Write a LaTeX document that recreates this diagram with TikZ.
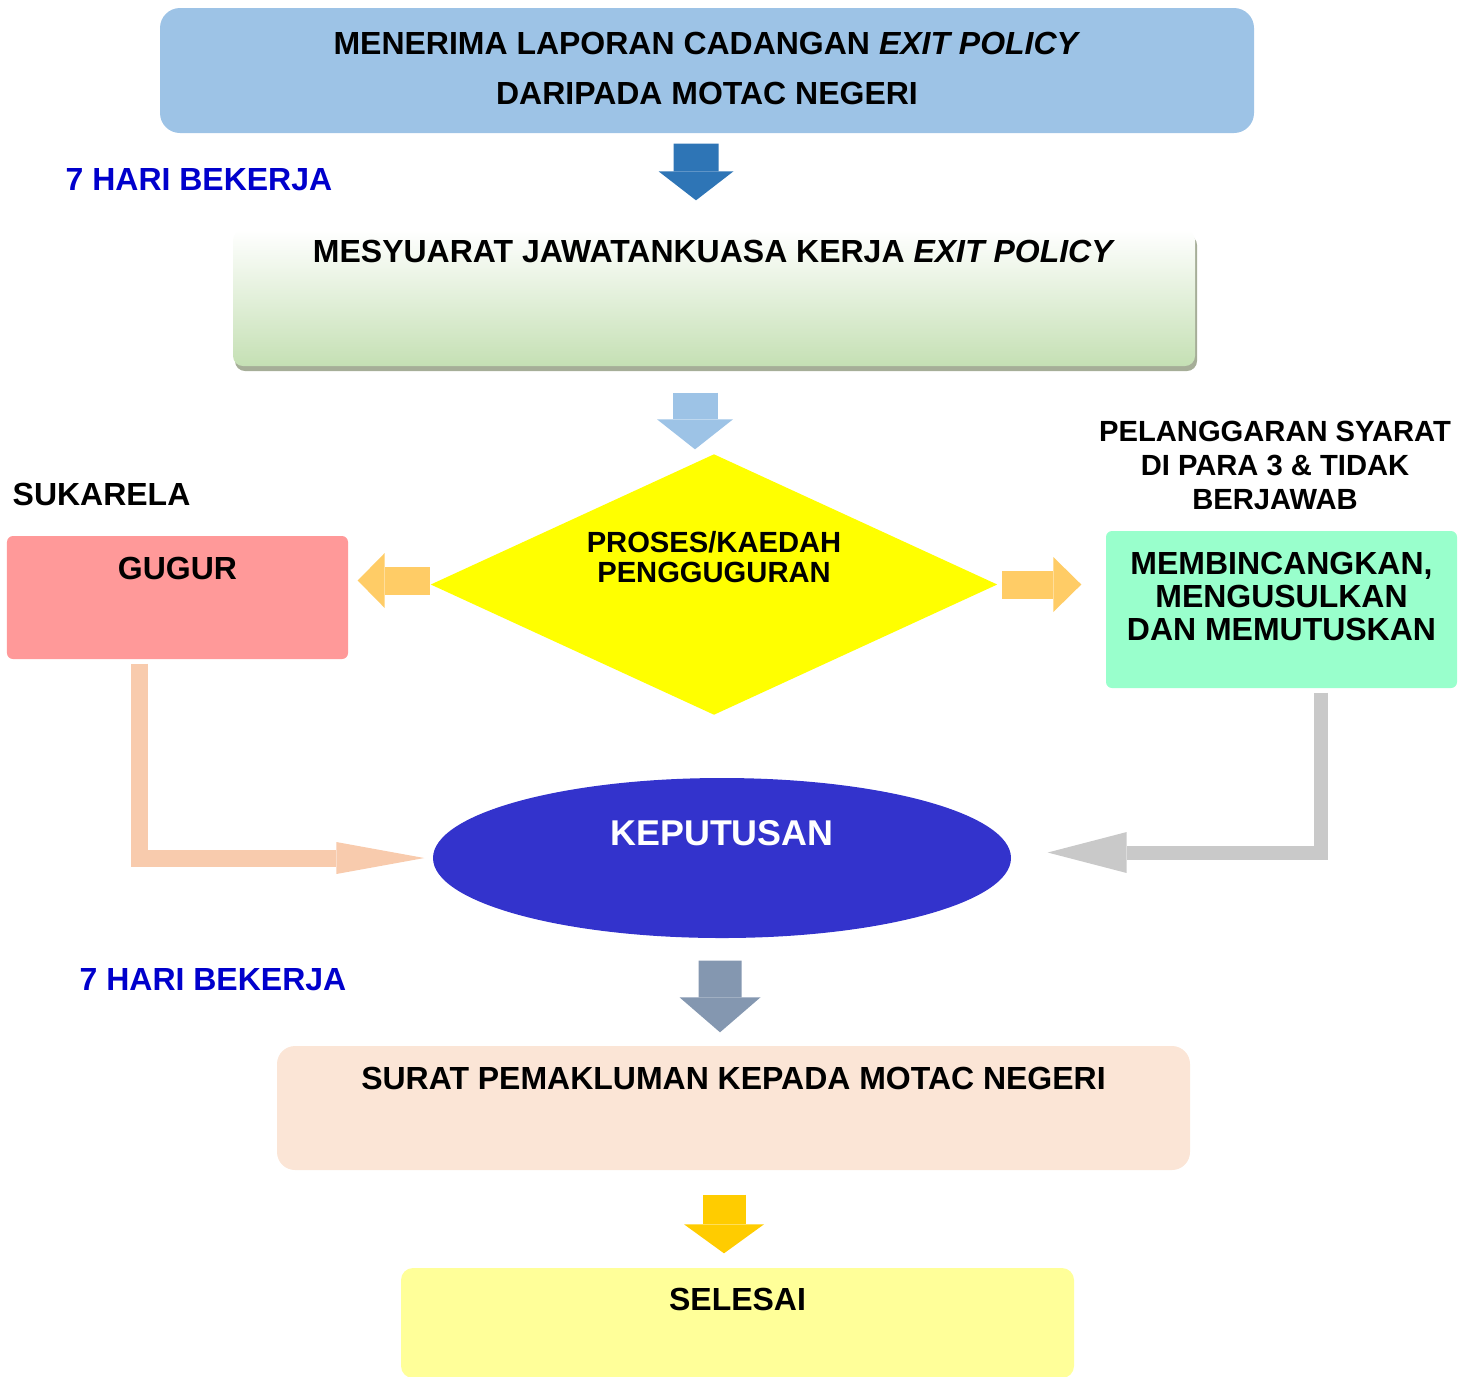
\documentclass[tikz,border=0pt]{standalone}
\usepackage{fontspec}
\setmainfont{Liberation Sans}
\usetikzlibrary{positioning,shapes.geometric,arrows.meta,shadows,calc}
\definecolor{lapblue}{HTML}{9DC3E6}
\definecolor{arrblue}{HTML}{2E75B6}
\definecolor{meetgreen}{HTML}{C5E0B4}
\definecolor{meetshadow}{HTML}{A6AE98}
\definecolor{diayellow}{HTML}{FFFF00}
\definecolor{orangearr}{HTML}{FFCC66}
\definecolor{gugurred}{HTML}{FF9999}
\definecolor{mintgreen}{HTML}{99FFCC}
\definecolor{peach}{HTML}{F8CBAD}
\definecolor{greyarr}{HTML}{C9C9C9}
\definecolor{kepblue}{HTML}{3333CC}
\definecolor{hariblue}{HTML}{0000CC}
\definecolor{slate}{HTML}{8497B0}
\definecolor{suratpink}{HTML}{FBE5D6}
\definecolor{goldarr}{HTML}{FFCC00}
\definecolor{lightyellow}{HTML}{FFFF99}
\tikzset{
  box/.style={rectangle, inner sep=0pt, align=center,
    font=\bfseries\fontsize{9.1}{11}\selectfont},
  lbl/.style={inner sep=0pt, font=\bfseries\fontsize{9.1}{11}\selectfont},
  blk/.style n args={3}{line width=#1, line join=miter,
    -{Triangle[length=#2, width=#3, line width=0pt]}},
}

\begin{document}
\begin{tikzpicture}
  \useasboundingbox (0,0) rectangle (14.72,-13.76);

  % Nodes
  \node[box, fill=lapblue, rounded corners=0.2cm, minimum width=10.94cm,
    minimum height=1.25cm, text height=0.964cm, text depth=0.286cm,
    font=\bfseries\fontsize{9.1}{14.2}\selectfont]
    (lapor) at (7.07,-0.705) {MENERIMA LAPORAN CADANGAN \textit{EXIT POLICY}\\DARIPADA MOTAC NEGERI};
  \node[box, top color=white, bottom color=meetgreen, rounded corners=0.1cm,
    minimum width=9.62cm, minimum height=1.36cm, text height=0.32cm, text depth=1.04cm,
    drop shadow={shadow xshift=0.02cm, shadow yshift=-0.05cm, fill=meetshadow, opacity=1}]
    (meet) at (7.14,-2.98) {MESYUARAT JAWATANKUASA KERJA \textit{EXIT POLICY}};
  \node[diamond, fill=diayellow, inner sep=0pt, aspect=2.18, minimum width=5.67cm,
    minimum height=2.61cm, text height=0.6cm, text depth=0.642cm, align=center,
    font=\bfseries\fontsize{8.3}{8.6}\selectfont]
    (proses) at (7.14,-5.845) {PROSES/KAEDAH\\PENGGUGURAN};
  \node[box, fill=gugurred, rounded corners=0.06cm, minimum width=3.41cm,
    minimum height=1.23cm, text height=0.43cm, text depth=0.80cm]
    (gugur) at (1.775,-5.975) {GUGUR};
  \node[box, fill=mintgreen, rounded corners=0.06cm, minimum width=3.51cm,
    minimum height=1.57cm, text height=1.094cm, text depth=0.476cm,
    font=\bfseries\fontsize{9.1}{9.4}\selectfont]
    (bincang) at (12.815,-6.095) {MEMBINCANGKAN,\\MENGUSULKAN\\DAN MEMUTUSKAN};
  \node[ellipse, fill=kepblue, text=white, inner sep=0pt, minimum width=5.78cm,
    minimum height=1.60cm, text height=0.3cm, text depth=0.544cm,
    font=\bfseries\fontsize{10.2}{12}\selectfont]
    (kep) at (7.22,-8.58) {KEPUTUSAN};
  \node[box, fill=suratpink, rounded corners=0.18cm, minimum width=9.13cm,
    minimum height=1.24cm, text height=0.43cm, text depth=0.81cm]
    (surat) at (7.335,-11.08) {SURAT PEMAKLUMAN KEPADA MOTAC NEGERI};
  \node[box, fill=lightyellow, rounded corners=0.12cm, minimum width=6.73cm,
    minimum height=1.10cm, text height=0.425cm, text depth=0.675cm]
    (selesai) at (7.375,-13.23) {SELESAI};

  \node[lbl, text=hariblue, anchor=west] (hari1) at (0.65,-1.80) {7 HARI BEKERJA};
  \node[lbl, text=hariblue, anchor=west] (hari2) at (0.79,-9.80) {7 HARI BEKERJA};
  \node[lbl, anchor=west] (sukarela) at (0.12,-4.94) {SUKARELA};
  \node[lbl, align=center, above=0.2cm of bincang, xshift=-0.065cm,
    font=\bfseries\fontsize{8.3}{9.67}\selectfont]
    (langgar) {PELANGGARAN SYARAT\\DI PARA 3 \& TIDAK\\BERJAWAB};

  % Edges
  \draw[blk={0.45cm}{0.29cm}{0.75cm}, arrblue, shorten <=0.10cm, shorten >=0.29cm]
    ([xshift=-0.11cm]lapor.south) -- ([xshift=-0.18cm]meet.north);
  \draw[blk={0.45cm}{0.30cm}{0.76cm}, lapblue, shorten <=0.26cm, shorten >=0.04cm]
    ([xshift=-0.19cm]meet.south) -- ([xshift=-0.19cm]proses.north);
  \draw[blk={0.28cm}{0.27cm}{0.55cm}, orangearr, shorten >=0.09cm]
    ([yshift=0.04cm]proses.west) -- ([yshift=0.04cm]gugur.east |- proses.west);
  \draw[blk={0.28cm}{0.28cm}{0.55cm}, orangearr, shorten <=0.04cm, shorten >=0.24cm]
    (proses.east) -- (bincang.west |- proses.east);
  \draw[blk={0.17cm}{0.88cm}{0.32cm}, peach, shorten <=0.04cm, shorten >=0.08cm]
    ($(gugur.south west)!0.39!(gugur.south east)$) |- (kep.west);
  \draw[blk={0.14cm}{0.79cm}{0.41cm}, greyarr, shorten <=0.04cm, shorten >=0.36cm]
    ($(bincang.south west)!0.613!(bincang.south east)$) |- ([yshift=0.055cm]kep.east);
  \draw[blk={0.43cm}{0.35cm}{0.81cm}, slate, shorten <=0.22cm, shorten >=0.13cm]
    ([xshift=-0.02cm]kep.south) -- ([xshift=-0.135cm]surat.north);
  \draw[blk={0.43cm}{0.29cm}{0.80cm}, goldarr, shorten <=0.24cm, shorten >=0.14cm]
    ([xshift=-0.095cm]surat.south) -- ([xshift=-0.135cm]selesai.north);

\end{tikzpicture}
\end{document}
